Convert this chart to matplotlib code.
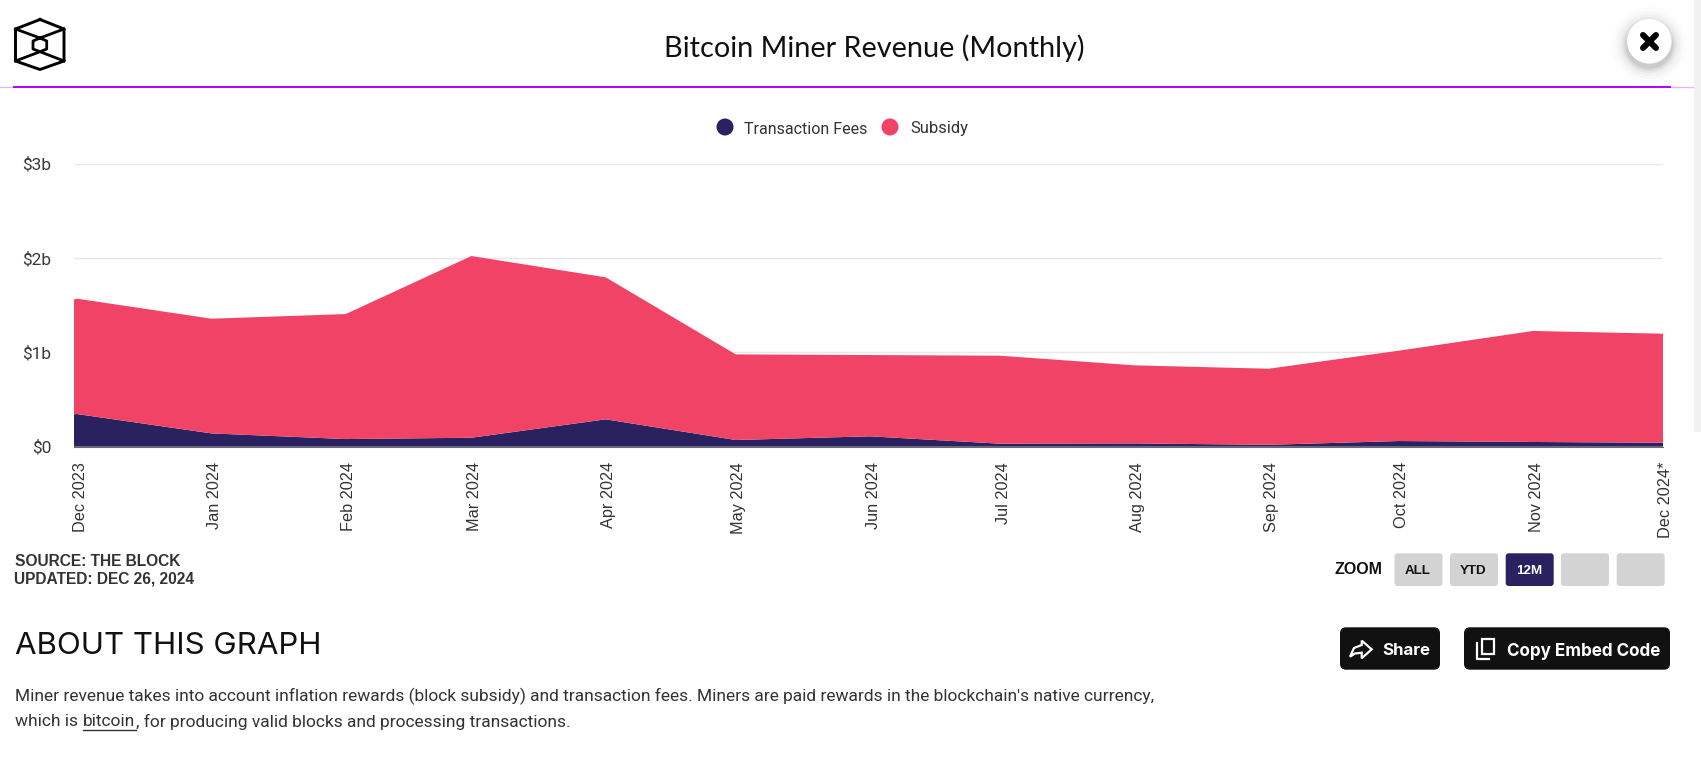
import numpy as np
import pandas as pd
import matplotlib
matplotlib.use('Agg')
import matplotlib.pyplot as plt
from matplotlib.patches import FancyBboxPatch, Circle, Rectangle, Polygon
from matplotlib.transforms import ScaledTranslation

# first month sits just left of the visible range, the chart clips it
months = pd.date_range('2023-11-01', '2024-12-01', freq='MS')
month_labels = ['Dec 2023', 'Jan 2024', 'Feb 2024', 'Mar 2024', 'Apr 2024', 'May 2024', 'Jun 2024',
                'Jul 2024', 'Aug 2024', 'Sep 2024', 'Oct 2024', 'Nov 2024', 'Dec 2024*']
# $ billions
fees = [0.25, 0.346, 0.141, 0.081, 0.095, 0.29, 0.071, 0.11, 0.032, 0.035, 0.02, 0.06, 0.05, 0.042]
subsidy = [0.95, 1.222, 1.215, 1.324, 1.925, 1.504, 0.907, 0.861, 0.932, 0.827, 0.806, 0.957, 1.176, 1.155]
y_ticks = [0, 1, 2, 3]
y_labels = ['$0', '$1b', '$2b', '$3b']

NAVY = '#2a2160'
PINK = '#f14366'
W, H = 1701, 764

fig = plt.figure(figsize=(W / 100, H / 100), dpi=100, facecolor='white')

# chart area
left, right, top, bottom = 74, 1663, 163.5, 446.7
ax = fig.add_axes([left / W, 1 - bottom / H, (right - left) / W, (bottom - top) / H])
ax.stackplot(months, fees, subsidy, colors=[NAVY, PINK], linewidth=0, zorder=3)
ax.set_xlim(months[1] - pd.Timedelta(hours=17), months[-1])
ax.set_ylim(0, 3)
ax.set_yticks(y_ticks, y_labels, fontfamily='Roboto', fontsize=12.5, color='#3a3a3a')
ax.set_xticks(months[1:], month_labels, rotation=90, fontfamily='Liberation Sans', fontsize=11.7, color='#333333',
              ha='center', va='top')
ax.tick_params(axis='both', length=0)
ax.tick_params(axis='x', pad=11)
ax.tick_params(axis='y', pad=16.5)
shift = ScaledTranslation(3 / fig.dpi, 0, fig.dpi_scale_trans)
for lab in ax.get_xticklabels():
    lab.set_transform(lab.get_transform() + shift)
ax.grid(axis='y', color='#e8e8e8', linewidth=1, zorder=0)
ax.set_axisbelow(True)
for s in ['top', 'right', 'left']:
    ax.spines[s].set_visible(False)
ax.spines['bottom'].set_color('#6b6b6b')
ax.spines['bottom'].set_zorder(5)

# page furniture, in pixels
ui = fig.add_axes([0, 0, 1, 1], facecolor='none', zorder=10)
ui.set_xlim(0, W)
ui.set_ylim(H, 0)
ui.axis('off')

ui.add_patch(Rectangle((1694, 0), 7, 432, color='#f1f1f1', lw=0))

ui.text(874, 48.5, 'Bitcoin Miner Revenue (Monthly)', fontfamily='Lato', fontsize=20.8, color='#111111',
        ha='center', va='center')

# purple rule
ui.plot([0, 14], [86.7, 86.7], color='#dcb8ff', lw=1)
ui.plot([1670, 1693], [86.7, 86.7], color='#dcb8ff', lw=1)
ui.plot([14, 1670], [86.7, 86.7], color='#b000ff', lw=1.4)

# logo
ui.plot([40, 64, 64, 40, 15.5, 15.5, 40], [19.5, 29, 61, 69.5, 61, 29, 19.5], color='black', lw=2.1,
        solid_joinstyle='round')
ui.plot([40, 46.7, 46.7, 40, 33, 33, 40], [38, 41, 49, 51.7, 49, 41, 38], color='black', lw=2)
ui.plot([15.5, 40, 64], [29, 38, 29], color='black', lw=2)
ui.plot([15.5, 40, 64], [61, 51.7, 61], color='black', lw=2)

# close button
for r, a in zip([38, 34, 31, 28, 26, 24], [0.012, 0.018, 0.025, 0.035, 0.05, 0.07]):
    ui.add_patch(Circle((1649.3, 45), r, color='black', alpha=a, lw=0))
ui.add_patch(Circle((1649.3, 41.3), 22.3, color='white', lw=0))
ui.plot([1643, 1656], [35, 48], color='black', lw=4.3, solid_capstyle='round')
ui.plot([1656, 1643], [35, 48], color='black', lw=4.3, solid_capstyle='round')

# legend
ui.scatter([725, 890], [127, 127], s=150, c=[NAVY, PINK], lw=0)
ui.text(744, 127.5, 'Transaction Fees', fontfamily='Roboto', fontsize=11.5, color='#333333', va='center_baseline')
ui.text(910, 127.5, 'Subsidy', fontfamily='Roboto', fontsize=12, color='#333333', va='center_baseline')

# source
ui.text(15, 561, 'SOURCE: THE BLOCK', fontfamily='Liberation Sans', fontweight='bold', fontsize=11.2,
        color='#333333', va='center')
ui.text(14, 579, 'UPDATED: DEC 26, 2024', fontfamily='Liberation Sans', fontweight='bold', fontsize=11.2,
        color='#333333', va='center')

# zoom buttons
ui.text(1334, 569, 'ZOOM', fontfamily='Liberation Sans', fontweight='bold', fontsize=11.5, color='#111111',
        va='center')


def button(x0, y0, x1, y1, col, rad=3):
    ui.add_patch(FancyBboxPatch((x0 + rad, y0 + rad), x1 - x0 - 2 * rad, y1 - y0 - 2 * rad,
                                boxstyle='round,pad=%d,rounding_size=%d' % (rad, rad), fc=col, ec='none'))


for x0, lab in zip([1394.5, 1450, 1505.7, 1561, 1616.7], ['ALL', 'YTD', '12M', '', '']):
    active = lab == '12M'
    button(x0, 553.3, x0 + 48, 586, NAVY if active else '#d3d3d3')
    ui.text(x0 + 23, 571, lab, fontfamily='Liberation Sans', fontweight='bold', fontsize=9.6,
            color='white' if active else '#111111', ha='center', va='center')

# about
ui.text(15, 646, 'ABOUT THIS GRAPH', fontfamily='Inter', fontsize=22.5, color='#111111', va='center')

button(1340, 627.3, 1440, 669.7, '#111111', 6)
button(1464, 627.3, 1670, 669.7, '#111111', 6)
ui.text(1382, 649, 'Share', fontfamily='Inter', fontweight='bold', fontsize=12.2, color='white', va='center_baseline')
ui.text(1507, 649, 'Copy Embed Code', fontfamily='Inter', fontweight='bold', fontsize=12.3, color='white',
        va='center_baseline')
# share arrow
ui.add_patch(Polygon([(1371.7, 649.3), (1361.7, 640.7), (1361.7, 645), (1354, 648), (1350, 656.7),
                      (1355, 653.5), (1361.7, 652.7), (1361.7, 658.3)], closed=True, fc='none', ec='white', lw=1.6))
# copy icon
ui.add_patch(Rectangle((1482.3, 639), 12, 15, fc='none', ec='white', lw=1.6))
ui.plot([1476.7, 1476.7, 1489], [643.3, 659, 659], color='white', lw=1.6)

ui.text(15, 696, "Miner revenue takes into account inflation rewards (block subsidy) and transaction fees. "
        "Miners are paid rewards in the blockchain's native currency,", fontfamily='Roboto', fontsize=12.5,
        color='#333333', va='center')
ui.text(15, 722, 'which is', fontfamily='Roboto', fontsize=12.5, color='#333333', va='center')
ui.text(83, 722, 'bitcoin', fontfamily='Roboto', fontsize=12.5, color='#333333', va='center')
ui.plot([83, 136], [729.5, 729.5], color='#333333', lw=1)
ui.text(136, 722, ', for producing valid blocks and processing transactions.', fontfamily='Roboto', fontsize=12.5,
        color='#333333', va='center')

fig.savefig('out.png', dpi=100)
